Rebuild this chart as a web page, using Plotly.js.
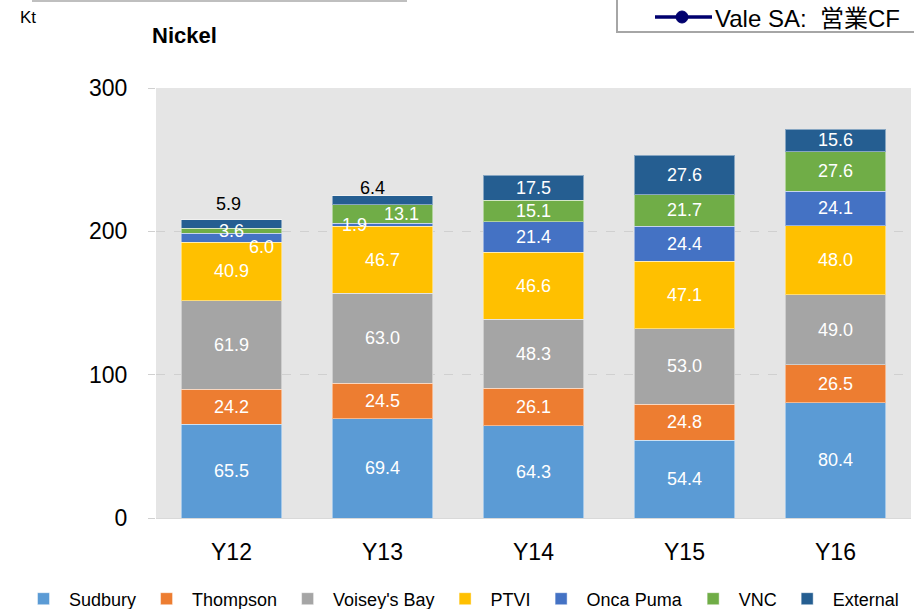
<!DOCTYPE html>
<html>
<head>
<meta charset="utf-8">
<script src="https://cdn.plot.ly/plotly-3.0.1.min.js"></script>
<style>
  html, body { margin: 0; padding: 0; background: #fff; }
  #chart { width: 914px; height: 609px; }
</style>
</head>
<body>
<div id="chart"></div>
<script>
const years = ["Y12", "Y13", "Y14", "Y15", "Y16"];
const sudbury = [65.5, 69.4, 64.3, 54.4, 80.4];
const thompson = [24.2, 24.5, 26.1, 24.8, 26.5];
const voisey = [61.9, 63.0, 48.3, 53.0, 49.0];
const ptvi = [40.9, 46.7, 46.6, 47.1, 48.0];
const oncaPuma = [6.0, 1.9, 21.4, 24.4, 24.1];
const vnc = [3.6, 13.1, 15.1, 21.7, 27.6];
const external = [5.9, 6.4, 17.5, 27.6, 15.6];

const seriesNames = ["Sudbury", "Thompson", "Voisey's Bay", "PTVI", "Onca Puma", "VNC", "External"];
const seriesValues = [sudbury, thompson, voisey, ptvi, oncaPuma, vnc, external];
const seriesColors = ["#5B9BD5", "#ED7D31", "#A5A5A5", "#FFC000", "#4472C4", "#70AD47", "#255E91"];

// labels that Excel had moved by hand: [series index, year index, colour, dx, dy]
const movedLabels = [
  [6, 0, "#000", -3, 16],
  [5, 0, "#fff", 0, 0],
  [4, 0, "#fff", 30, -5],
  [4, 1, "#fff", -28, 0],
  [5, 1, "#fff", 19, 0],
  [6, 1, "#000", -10, 8]
];

const FONT = "Liberation Sans, Arial, Noto Sans CJK JP, sans-serif";

// plot area in page pixels
const L = 156, R = 911, T = 88, B = 518;
const px = x => (x - L) / (R - L);
const py = y => (B - y) / (B - T);

function isMoved(s, i) {
  return movedLabels.some(m => m[0] === s && m[1] === i);
}

const data = seriesNames.map((name, s) => ({
  type: "bar",
  name: name,
  x: years,
  y: seriesValues[s],
  marker: {color: seriesColors[s], line: {color: "rgba(255,255,255,0.45)", width: 1}},
  text: seriesValues[s].map((v, i) => isMoved(s, i) ? "" : v.toFixed(1)),
  textposition: "inside",
  insidetextanchor: "middle",
  textangle: 0,
  constraintext: "none",
  textfont: {color: "#fff", size: 18, family: FONT},
  hoverinfo: "skip"
}));

// cumulative bases for the hand-placed labels
function base(s, i) {
  let b = 0;
  for (let k = 0; k < s; k++) b += seriesValues[k][i];
  return b;
}

const annotations = movedLabels.map(([s, i, color, dx, dy]) => {
  const v = seriesValues[s][i];
  let y = base(s, i) + v / 2;
  if (color === "#000") y = base(s, i) + v;
  if (s === 4 && i === 0) y = base(s, i);
  return {
    x: years[i], y: y, xref: "x", yref: "y",
    text: v.toFixed(1), showarrow: false,
    xshift: dx, yshift: dy,
    font: {color: color, size: 18, family: FONT}
  };
});

annotations.push({
  xref: "paper", yref: "paper", x: px(18), y: py(18),
  xanchor: "left", yanchor: "middle", text: "Kt", showarrow: false,
  font: {size: 17, color: "#000", family: FONT}
});
annotations.push({
  xref: "paper", yref: "paper", x: px(713), y: py(19),
  xanchor: "left", yanchor: "middle", text: "Vale SA:\u00a0\u00a0営業CF", showarrow: false,
  font: {size: 24, color: "#000", family: FONT}
});

const shapes = [
  {type: "line", xref: "paper", yref: "paper", x0: px(32), x1: px(407), y0: py(1), y1: py(1),
   line: {color: "#bfbfbf", width: 2}},
  {type: "rect", xref: "paper", yref: "paper", x0: px(617), x1: px(930), y0: py(32), y1: py(-10),
   line: {color: "#a6a6a6", width: 2}, fillcolor: "rgba(0,0,0,0)"},
  {type: "line", xref: "paper", yref: "paper", x0: px(655), x1: px(712), y0: py(17), y1: py(17),
   line: {color: "#00006e", width: 3.5}},
  {type: "circle", xref: "paper", yref: "paper", x0: px(676), x1: px(688), y0: py(11), y1: py(23),
   line: {color: "#00006e", width: 1}, fillcolor: "#00006e"}
];

const layout = {
  width: 914,
  height: 609,
  margin: {l: L, r: 914 - R, t: T, b: 609 - B, pad: 0, autoexpand: false},
  paper_bgcolor: "#fff",
  plot_bgcolor: "#e5e5e5",
  barmode: "stack",
  bargap: 0.337,
  font: {family: FONT, color: "#000"},
  title: {
    text: "<b>Nickel</b>", xref: "container", yref: "container",
    x: 152 / 914, xanchor: "left", y: 1 - 35 / 609, yanchor: "middle",
    font: {size: 22, color: "#000", family: FONT}
  },
  xaxis: {
    showline: true, linecolor: "#d9d9d9", linewidth: 1,
    ticks: "", tickfont: {size: 23, color: "#000"},
    ticklabelstandoff: 13, fixedrange: true
  },
  yaxis: {
    range: [0, 300], dtick: 100, tick0: 0,
    showgrid: true, gridcolor: "#d0d0d0", griddash: "dash", gridwidth: 1,
    zeroline: false, showline: false,
    ticks: "outside", ticklen: 7, tickcolor: "#d0d0d0",
    tickfont: {size: 23, color: "#000"},
    ticklabelstandoff: 16, fixedrange: true
  },
  legend: {
    orientation: "h", xref: "paper", yref: "paper",
    x: px(18), xanchor: "left", y: py(599), yanchor: "middle",
    itemwidth: 41,
    font: {size: 18, color: "#000", family: FONT},
    itemclick: false, itemdoubleclick: false, traceorder: "normal"
  },
  annotations: annotations,
  shapes: shapes,
  showlegend: true
};

Plotly.newPlot("chart", data, layout, {displayModeBar: false, staticPlot: true});
</script>
</body>
</html>
